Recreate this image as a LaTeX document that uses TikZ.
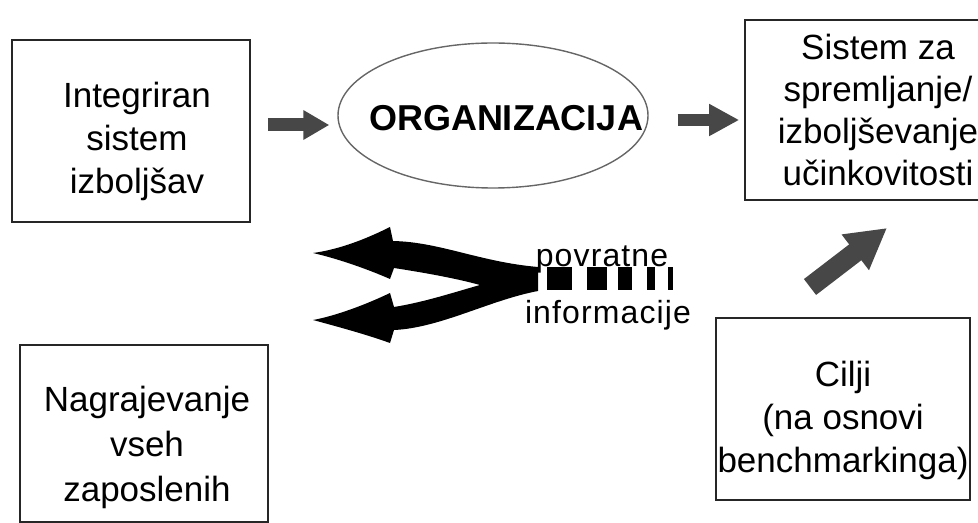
\documentclass[tikz,border=0pt]{standalone}
\usepackage{fontspec}
\setmainfont{Liberation Sans}
\newfontfamily\infofont[LetterSpace=3.5]{Liberation Sans}
\usepackage{tikz}
\usetikzlibrary{positioning}
\usetikzlibrary{shapes.geometric,arrows.meta}

\begin{document}
\begin{tikzpicture}[x=0.5pt, y=-0.5pt,
box/.style={rectangle, draw=black!85, line width=0.8pt, inner sep=0pt},
boxtxt/.style={align=center, inner sep=0pt, font=\fontsize{17.5}{21.5}\selectfont},
orgel/.style={ellipse, draw=black!60, line width=0.7pt, inner sep=0pt,
  minimum width=155pt, minimum height=72.5pt},
fat/.style={draw=black!72},
info/.style={inner sep=0pt, anchor=base, font=\fontsize{16}{18}\infofont}]
\def\sq{267}
\def\sqb{290}
\useasboundingbox (0,0) rectangle (978,523);
\clip (0,0) rectangle (978,523);

\node[box, minimum width=119pt, minimum height=91pt] (integ) at (131,131) {};
\node[boxtxt] (integT) at (137,141) {Integriran\\sistem\\izboljšav};

\node[orgel] (org) at (493,115.5) {};
\node[inner sep=0pt, font=\fontsize{18}{22}\selectfont\bfseries] (orgT) at (506,118) {ORGANIZACIJA};

\node[box, minimum width=127.5pt, minimum height=90pt] (sistem) at (872.5,110) {};
\node[boxtxt, font=\fontsize{17.5}{21}\selectfont] (sistemT) at (878,110) {Sistem za\\spremljanje/\\izboljševanje\\učinkovitosti};

\node[box, minimum width=127pt, minimum height=91pt] (cilji) at (843,409) {};
\node[boxtxt] (ciljiT) at (843,420) {Cilji\\(na osnovi\\benchmarkinga)};

\node[box, minimum width=124pt, minimum height=88.5pt] (nagr) at (144,433.5) {};
\node[boxtxt, font=\fontsize{17.5}{22.5}\selectfont] (nagrT) at (147,447) {Nagrajevanje\\vseh\\zaposlenih};

\coordinate (laxis) at (0,125);
\coordinate (raxis) at (0,120);
\coordinate (gtail) at (810,287);
\coordinate (ghead) at (887,228);

\draw[fat, line width=6.5pt, -{Triangle[width=14pt,length=13pt]},
  shorten <=8.5pt, shorten >=4pt] (integ.east |- laxis) -- (org.west |- laxis);
\draw[fat, line width=6pt, -{Triangle[width=15pt,length=15pt]},
  shorten <=14.5pt, shorten >=2.5pt] (org.east |- raxis) -- (sistem.west |- raxis);
\draw[fat, line width=10pt, -{Triangle[width=21pt,length=20pt]}] (gtail) -- (ghead);

\fill[black] (538,267) .. controls (480,262) and (440,242) .. (393,241)
  -- (390,227) .. controls (360,242) and (335,250) .. (313,253)
  .. controls (335,258) and (365,268) .. (390,279)
  -- (394,268) .. controls (420,272) and (455,278) .. (480,285)
  .. controls (455,292) and (425,302) .. (394,307)
  -- (390,293) .. controls (365,305) and (335,316) .. (313,320)
  .. controls (335,326) and (365,334) .. (390,343)
  -- (394,330) .. controls (440,328) and (490,300) .. (538,291) -- cycle;

\node[info] (povr) at (602,267) {povratne};
\node[info] (inform) at (608,323) {informacije};
\foreach \xa/\xb in {547/572,587/607,618/632,647/655,668/673}
  \fill[black] (\xa,\sq) rectangle (\xb,\sqb);
\end{tikzpicture}
\end{document}
